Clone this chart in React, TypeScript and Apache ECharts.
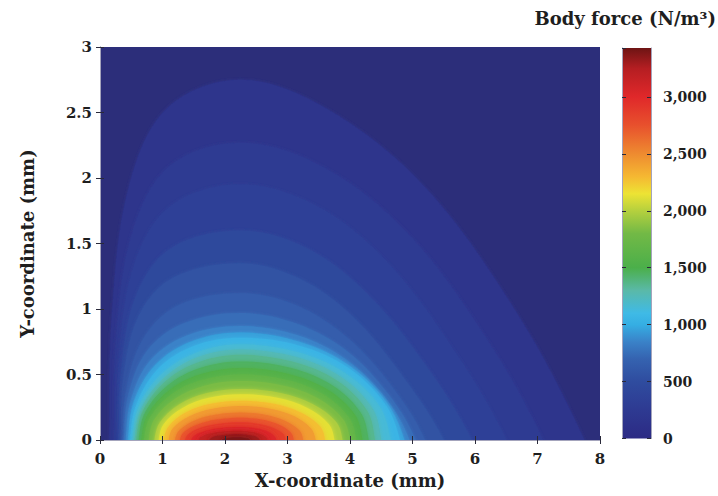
import React, { useEffect, useRef } from "react";
import * as echarts from "echarts";

// ---- data ----
const forceMax = 3430; // top of colour bar (N/m^3)
const colorbarTicks = [0, 500, 1000, 1500, 2000, 2500, 3000];

// contour levels (N/m^3) and their boundary points [x mm, y mm]
const levels = [100, 200, 300, 400, 500, 600, 700, 800, 900, 1000, 1100, 1200, 1300, 1400, 1500, 1600, 1750, 1900, 2050, 2200, 2350, 2500, 2650, 2800, 2950, 3100, 3250, 3380];

const c100 = [[0.15, 0], [0.19, 0.96], [0.46, 1.93], [1.07, 2.53], [2.24, 2.75], [3.62, 2.53], [5.2, 1.93], [6.68, 0.96], [7.75, 0]];
const c200 = [[0.22, 0], [0.26, 0.8], [0.52, 1.59], [1.11, 2.09], [2.24, 2.27], [3.55, 2.09], [4.9, 1.59], [6.15, 0.8], [7.09, 0]];
const c300 = [[0.27, 0], [0.31, 0.68], [0.57, 1.37], [1.14, 1.79], [2.24, 1.95], [3.45, 1.79], [4.57, 1.37], [5.67, 0.68], [6.5, 0]];
const c400 = [[0.3, 0], [0.34, 0.56], [0.59, 1.12], [1.15, 1.47], [2.24, 1.6], [3.29, 1.47], [4.27, 1.12], [5.23, 0.56], [5.95, 0]];
const c500 = [[0.33, 0], [0.37, 0.47], [0.62, 0.95], [1.17, 1.24], [2.24, 1.35], [3.16, 1.24], [4.03, 0.95], [4.87, 0.47], [5.5, 0]];
const c600 = [[0.36, 0], [0.42, 0.39], [0.7, 0.78], [1.26, 1.03], [2.24, 1.12], [3.13, 1.03], [3.96, 0.78], [4.7, 0.39], [5.2, 0]];
const c700 = [[0.38, 0], [0.45, 0.34], [0.75, 0.68], [1.33, 0.89], [2.24, 0.97], [3.14, 0.89], [3.95, 0.68], [4.63, 0.34], [5.05, 0]];
const c800 = [[0.41, 0], [0.49, 0.3], [0.81, 0.61], [1.4, 0.8], [2.24, 0.87], [3.16, 0.8], [3.95, 0.61], [4.6, 0.3], [4.95, 0]];
const c900 = [[0.45, 0], [0.54, 0.29], [0.88, 0.57], [1.45, 0.75], [2.24, 0.82], [3.19, 0.75], [3.98, 0.57], [4.58, 0.29], [4.87, 0]];
const c1000 = [[0.48, 0], [0.58, 0.27], [0.94, 0.55], [1.51, 0.72], [2.25, 0.78], [3.19, 0.72], [3.98, 0.55], [4.57, 0.27], [4.8, 0]];
const c1100 = [[0.52, 0], [0.62, 0.26], [1.0, 0.51], [1.56, 0.67], [2.25, 0.73], [3.17, 0.67], [3.93, 0.51], [4.47, 0.26], [4.65, 0]];
const c1200 = [[0.55, 0], [0.66, 0.24], [1.04, 0.48], [1.58, 0.635], [2.25, 0.69], [3.13, 0.635], [3.86, 0.48], [4.36, 0.24], [4.5, 0]];
const c1300 = [[0.58, 0], [0.69, 0.2275], [1.06, 0.455], [1.6, 0.598], [2.25, 0.65], [3.09, 0.598], [3.79, 0.455], [4.27, 0.2275], [4.4, 0]];
const c1400 = [[0.62, 0], [0.72, 0.21], [1.09, 0.42], [1.61, 0.552], [2.25, 0.6], [3.05, 0.552], [3.71, 0.42], [4.17, 0.21], [4.3, 0]];
const c1500 = [[0.66, 0], [0.76, 0.1925], [1.12, 0.385], [1.63, 0.506], [2.25, 0.55], [3.01, 0.506], [3.64, 0.385], [4.08, 0.1925], [4.2, 0]];
const c1600 = [[0.7, 0], [0.8, 0.175], [1.14, 0.35], [1.64, 0.46], [2.25, 0.5], [2.98, 0.46], [3.57, 0.35], [3.98, 0.175], [4.1, 0]];
const c1750 = [[0.78, 0], [0.87, 0.1575], [1.2, 0.315], [1.67, 0.414], [2.25, 0.45], [2.94, 0.414], [3.5, 0.315], [3.89, 0.1575], [4.0, 0]];
const c1900 = [[0.87, 0], [0.96, 0.1365], [1.27, 0.273], [1.71, 0.359], [2.25, 0.39], [2.89, 0.359], [3.41, 0.273], [3.78, 0.1365], [3.88, 0]];
const c2050 = [[0.94, 0], [1.02, 0.1225], [1.32, 0.245], [1.74, 0.322], [2.25, 0.35], [2.84, 0.322], [3.32, 0.245], [3.66, 0.1225], [3.75, 0]];
const c2200 = [[1.02, 0], [1.1, 0.105], [1.37, 0.21], [1.77, 0.276], [2.25, 0.3], [2.78, 0.276], [3.21, 0.21], [3.52, 0.105], [3.6, 0]];
const c2350 = [[1.1, 0], [1.17, 0.091], [1.43, 0.182], [1.8, 0.239], [2.25, 0.26], [2.72, 0.239], [3.11, 0.182], [3.37, 0.091], [3.45, 0]];
const c2500 = [[1.2, 0], [1.27, 0.0735], [1.5, 0.147], [1.84, 0.193], [2.25, 0.21], [2.64, 0.193], [2.96, 0.147], [3.19, 0.0735], [3.25, 0]];
const c2650 = [[1.28, 0], [1.34, 0.0595], [1.56, 0.119], [1.87, 0.156], [2.25, 0.17], [2.58, 0.156], [2.86, 0.119], [3.05, 0.0595], [3.1, 0]];
const c2800 = [[1.36, 0], [1.42, 0.047], [1.62, 0.0945], [1.9, 0.124], [2.25, 0.135], [2.53, 0.124], [2.76, 0.0945], [2.93, 0.047], [2.97, 0]];
const c2950 = [[1.46, 0], [1.51, 0.035], [1.69, 0.07], [1.94, 0.092], [2.25, 0.1], [2.47, 0.092], [2.66, 0.07], [2.78, 0.035], [2.82, 0]];
const c3100 = [[1.58, 0], [1.62, 0.0245], [1.76, 0.049], [1.96, 0.064], [2.2, 0.07], [2.39, 0.064], [2.54, 0.049], [2.65, 0.0245], [2.68, 0]];
const c3250 = [[1.75, 0], [1.78, 0.016], [1.88, 0.0315], [2.02, 0.041], [2.2, 0.045], [2.34, 0.041], [2.45, 0.0315], [2.53, 0.016], [2.55, 0]];
const c3380 = [[1.95, 0], [1.97, 0.007], [2.02, 0.014], [2.1, 0.018], [2.2, 0.02], [2.28, 0.018], [2.34, 0.014], [2.39, 0.007], [2.4, 0]];

const contours = [c100, c200, c300, c400, c500, c600, c700, c800, c900, c1000, c1100, c1200, c1300, c1400, c1500, c1600, c1750, c1900, c2050, c2200, c2350, c2500, c2650, c2800, c2950, c3100, c3250, c3380];

// colour map
const cmapValues = [0, 250, 500, 700, 850, 1000, 1100, 1300, 1500, 1800, 2000, 2150, 2300, 2500, 2750, 3000, 3250, 3430];
const cmapColors = ["#2c2a84", "#2e3a92", "#2f4c9f", "#3563b0", "#3a82c8", "#35aee3", "#3fbae6", "#5ab9a8", "#4baf4a", "#72b946", "#b5d03e", "#ede334", "#f5b832", "#ee8b30", "#e8512d", "#e0282a", "#b51e22", "#6e1414"];

function hexToRgb(h: string) {
  const n = parseInt(h.slice(1), 16);
  return [(n >> 16) & 255, (n >> 8) & 255, n & 255];
}
function colorAt(v: number) {
  if (v <= cmapValues[0]) return cmapColors[0];
  for (let i = 1; i < cmapValues.length; i++) {
    if (v <= cmapValues[i]) {
      const t = (v - cmapValues[i - 1]) / (cmapValues[i] - cmapValues[i - 1]);
      const a = hexToRgb(cmapColors[i - 1]);
      const b = hexToRgb(cmapColors[i]);
      const c = a.map((x, k) => Math.round(x + (b[k] - x) * t));
      return `rgb(${c[0]},${c[1]},${c[2]})`;
    }
  }
  return cmapColors[cmapColors.length - 1];
}

const FONT = "'DejaVu Serif', serif";
const TXT = "#1e1e1e";

export default function App() {
  const ref = useRef<HTMLDivElement>(null);
  useEffect(() => {
    if (!ref.current) return;
    const chart = echarts.init(ref.current, null, { renderer: "svg" });
    const fills = levels.map((l, i) =>
      colorAt(i < levels.length - 1 ? (l + levels[i + 1]) / 2 : (l + forceMax) / 2)
    );
    const frameLine = { show: true, lineStyle: { color: "#a4a4bc", width: 1 } };
    const tick = { show: true, inside: true, length: 4, lineStyle: { color: "#2a2a3a", width: 1 } };
    const lbl = { fontFamily: FONT, fontWeight: "bold" as const, fontSize: 15, color: TXT };

    chart.setOption({
      animation: false,
      backgroundColor: "#ffffff",
      title: {
        text: "Body force (N/m³)",
        right: 2,
        top: 9,
        padding: 0,
        textStyle: { fontFamily: FONT, fontWeight: "bold", fontSize: 18, color: TXT },
      },
      grid: [
        { left: 100, top: 47, width: 500, height: 393, show: true, backgroundColor: "#2c2e7a", borderWidth: 0 },
        { left: 622, top: 48, width: 29, height: 390.5, show: false },
      ],
      xAxis: [
        {
          gridIndex: 0, type: "value", min: 0, max: 8, interval: 1, position: "bottom", z: 10,
          name: "X-coordinate (mm)", nameLocation: "middle", nameGap: 31,
          nameTextStyle: { fontFamily: FONT, fontWeight: "bold", fontSize: 18, color: TXT },
          axisLine: frameLine, axisTick: tick, splitLine: { show: false },
          axisLabel: { ...lbl, margin: 11 },
        },
        {
          gridIndex: 0, type: "value", min: 0, max: 8, interval: 1, position: "top", z: 10,
          axisLine: frameLine, axisTick: tick, splitLine: { show: false }, axisLabel: { show: false },
        },
        { gridIndex: 1, type: "category", data: ["force"], show: false },
      ],
      yAxis: [
        {
          gridIndex: 0, type: "value", min: 0, max: 3, interval: 0.5, position: "left", z: 10,
          name: "Y-coordinate (mm)", nameLocation: "middle", nameGap: 64,
          nameTextStyle: { fontFamily: FONT, fontWeight: "bold", fontSize: 18, color: TXT },
          axisLine: frameLine, axisTick: tick, splitLine: { show: false },
          axisLabel: { ...lbl, margin: 8 },
        },
        {
          gridIndex: 0, type: "value", min: 0, max: 3, interval: 0.5, position: "right", z: 10,
          axisLine: frameLine, axisTick: tick, splitLine: { show: false }, axisLabel: { show: false },
        },
        {
          gridIndex: 1, type: "value", min: 0, max: forceMax, interval: 500, position: "right", z: 10,
          axisLine: frameLine, axisTick: tick, splitLine: { show: false },
          axisLabel: {
            ...lbl, fontSize: 14, margin: 12, showMaxLabel: false,
            formatter: (v: number) => (colorbarTicks.includes(v) ? v.toLocaleString("en-US") : ""),
          },
        },
        {
          gridIndex: 1, type: "value", min: 0, max: forceMax, interval: 500, position: "left", z: 10,
          axisLine: frameLine, axisTick: tick, splitLine: { show: false }, axisLabel: { show: false },
        },
      ],
      series: [
        {
          type: "custom",
          xAxisIndex: 0,
          yAxisIndex: 0,
          clip: true,
          silent: true,
          data: levels.map((l) => ({ value: [0, 0], name: String(l) })),
          renderItem: (params: any, api: any) => {
            const i = params.dataIndex;
            const pts = contours[i];
            const xL = pts[0][0];
            const xR = pts[pts.length - 1][0];
            const poly = pts.map((p) => api.coord(p));
            poly.push(api.coord([xR, -0.15]));
            poly.push(api.coord([xL, -0.15]));
            const cs = params.coordSys;
            return {
              type: "group",
              clipPath: { type: "rect", shape: { x: cs.x, y: cs.y, width: cs.width, height: cs.height } },
              children: [
                {
                  type: "polygon",
                  z2: i,
                  shape: { points: poly, smooth: 0.35 },
                  style: {
                    fill: fills[i],
                    stroke: null,
                    shadowBlur: i >= 9 ? 5 : 3,
                    shadowColor: fills[i],
                  },
                },
              ],
            };
          },
        },
        {
          type: "bar",
          xAxisIndex: 2,
          yAxisIndex: 2,
          data: [forceMax],
          barWidth: "100%",
          silent: true,
          itemStyle: {
            color: new echarts.graphic.LinearGradient(
              0, 1, 0, 0,
              cmapValues.map((v, k) => ({ offset: v / forceMax, color: cmapColors[k] }))
            ),
          },
        },
      ],
    });
    return () => chart.dispose();
  }, []);
  return <div ref={ref} style={{ position: "fixed", left: 0, top: 0, width: 718, height: 496 }} />;
}
